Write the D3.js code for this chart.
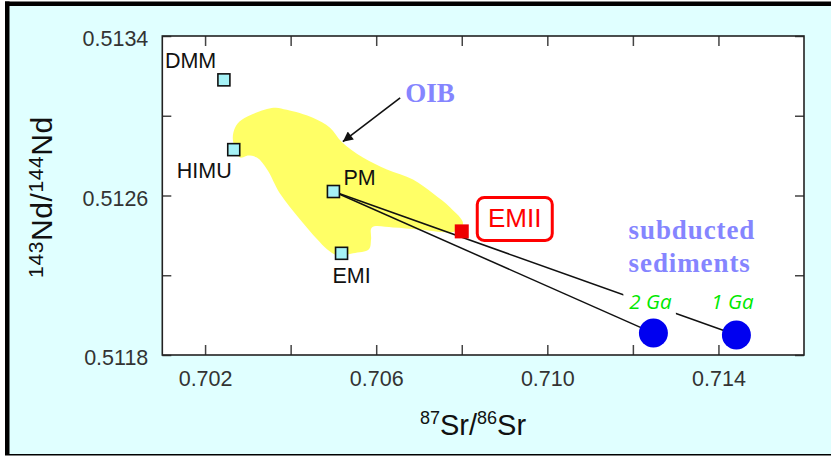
<!DOCTYPE html>
<html>
<head>
<meta charset="utf-8">
<script src="https://cdn.jsdelivr.net/npm/d3@7"></script>
<style>
  body { margin: 0; background: #ffffff; }
  svg { display: block; }
</style>
</head>
<body>
<svg id="chart" width="831" height="456"></svg>
<script>
// ---- data ---------------------------------------------------------------
// Mantle end-members (87Sr/86Sr, 143Nd/144Nd)
const reservoirs = ["DMM", "HIMU", "PM", "EMI"];
const reservoirSr = [0.70244, 0.70267, 0.70500, 0.70519];
const reservoirNd = [0.51318, 0.51283, 0.51262, 0.51231];

// Enriched mantle II
const emiiSr = 0.70800;
const emiiNd = 0.51242;

// Subducted sediments of two ages
const sedimentAges = ["2 Ga", "1 Ga"];
const sedimentSr = [0.71248, 0.71442];
const sedimentNd = [0.51191, 0.51190];

// Outline of the ocean-island basalt field
const oibSr = [0.70265, 0.70270, 0.70286, 0.70360, 0.70391, 0.70452, 0.70492, 0.70519,
               0.70569, 0.70625, 0.70686, 0.70733, 0.70773, 0.70803, 0.70784, 0.70702,
               0.70639, 0.70590, 0.70588, 0.70583, 0.70546, 0.70508, 0.70485, 0.70462,
               0.70422, 0.70375, 0.70345, 0.70321, 0.70298, 0.70282, 0.70265];
const oibNd = [0.51288, 0.51294, 0.51298, 0.51304, 0.51303, 0.51299, 0.51294, 0.51287,
               0.51279, 0.51273, 0.51268, 0.51261, 0.51254, 0.51246, 0.51242, 0.51243,
               0.51244, 0.51244, 0.51238, 0.51233, 0.51231, 0.51230, 0.51233, 0.51238,
               0.51248, 0.51261, 0.51273, 0.51279, 0.51280, 0.51279, 0.51279];

// Axis ticks
const xTicks = [0.702, 0.704, 0.706, 0.708, 0.710, 0.712, 0.714];
const xTickLabels = ["0.702", "", "0.706", "", "0.710", "", "0.714"];
const yTicks = [0.5118, 0.5122, 0.5126, 0.5130, 0.5134];
const yTickLabels = ["0.5118", "", "0.5126", "", "0.5134"];

// Annotation anchors (data space)
const oibArrowFrom = [0.70656, 0.51309];
const oibArrowTo = [0.70522, 0.51287];
const oibLabelAt = [0.70668, 0.51307];
const sedimentLabelAt = [0.71190, 0.51238];

// ---- layout -------------------------------------------------------------
const W = 831, H = 456;
const plot = { left: 162.3, right: 804, top: 36, bottom: 355 };

const svg = d3.select("#chart");

const x = d3.scaleLinear().domain([0.701, 0.716]).range([plot.left, plot.right]);
const y = d3.scaleLinear().domain([0.5118, 0.5134]).range([plot.bottom, plot.top]);

// slide frame
svg.append("rect").attr("x", 0).attr("y", 0).attr("width", W).attr("height", H).attr("fill", "#ffffff");
svg.append("rect").attr("x", 9).attr("y", 5.5).attr("width", W - 9).attr("height", 449)
  .attr("fill", "#e0ffff");
svg.append("rect").attr("x", 5).attr("y", 1.5).attr("width", W - 5).attr("height", 4.5).attr("fill", "#000");
svg.append("rect").attr("x", 5).attr("y", 1.5).attr("width", 4.5).attr("height", 453).attr("fill", "#000");
svg.append("rect").attr("x", 5).attr("y", 454).attr("width", W - 5).attr("height", 1.5).attr("fill", "#000");

// plot background
svg.append("rect")
  .attr("x", plot.left).attr("y", plot.top)
  .attr("width", plot.right - plot.left).attr("height", plot.bottom - plot.top)
  .attr("fill", "#ffffff");

// OIB field
const oibPts = oibSr.map((s, i) => [x(s), y(oibNd[i])]);
svg.append("path")
  .attr("d", d3.line().curve(d3.curveCatmullRomClosed.alpha(0.5))(oibPts.slice(0, -1)))
  .attr("fill", "#ffff66")
  .attr("stroke", "none");

// axes with inward ticks on all four sides
const tickFont = "'Liberation Sans', Arial, Helvetica, sans-serif";
function styleAxis(g) {
  g.select(".domain").remove();
  g.selectAll(".tick line").attr("stroke", "#444").attr("stroke-width", 1.5);
  g.selectAll(".tick text").attr("fill", "#333").attr("font-family", tickFont).attr("font-size", 21.5);
}
svg.append("g").attr("transform", `translate(0,${plot.bottom})`)
  .call(d3.axisBottom(x).tickValues(xTicks).tickSizeInner(-10).tickSizeOuter(0).tickPadding(15.5)
    .tickFormat((d, i) => xTickLabels[i]))
  .call(styleAxis);
svg.append("g").attr("transform", `translate(0,${plot.top})`)
  .call(d3.axisTop(x).tickValues(xTicks).tickSizeInner(-10).tickSizeOuter(0).tickFormat(""))
  .call(styleAxis);
svg.append("g").attr("transform", `translate(${plot.left},0)`)
  .call(d3.axisLeft(y).tickValues(yTicks).tickSizeInner(-9).tickSizeOuter(0).tickPadding(14)
    .tickFormat((d, i) => yTickLabels[i]))
  .call(styleAxis)
  .selectAll(".tick text").attr("dy", "0.45em");
svg.append("g").attr("transform", `translate(${plot.right},0)`)
  .call(d3.axisRight(y).tickValues(yTicks).tickSizeInner(-9).tickSizeOuter(0).tickFormat(""))
  .call(styleAxis);

// plot frame
svg.append("rect")
  .attr("x", plot.left).attr("y", plot.top)
  .attr("width", plot.right - plot.left).attr("height", plot.bottom - plot.top)
  .attr("fill", "none").attr("stroke", "#222").attr("stroke-width", 1.6);

// axis titles
const xTitle = svg.append("text")
  .attr("x", 473).attr("y", 435)
  .attr("text-anchor", "middle")
  .attr("font-family", tickFont).attr("font-size", 29).attr("fill", "#111");
xTitle.append("tspan").attr("font-size", 18).attr("dy", -11).text("87");
xTitle.append("tspan").attr("dy", 11).text("Sr/");
xTitle.append("tspan").attr("font-size", 18).attr("dy", -11).text("86");
xTitle.append("tspan").attr("dy", 11).text("Sr");

const yTitle = svg.append("text")
  .attr("transform", "translate(52,197) rotate(-90)")
  .attr("text-anchor", "middle")
  .attr("font-family", tickFont).attr("font-size", 30).attr("fill", "#111")
  .attr("letter-spacing", 0.6);
yTitle.append("tspan").attr("font-size", 21).attr("dy", -9).text("143");
yTitle.append("tspan").attr("dy", 9).text("Nd/");
yTitle.append("tspan").attr("font-size", 21).attr("dy", -9).text("144");
yTitle.append("tspan").attr("dy", 9).text("Nd");

// mixing lines from PM to the sediment compositions
const pmIdx = reservoirs.indexOf("PM");
sedimentSr.forEach((s, i) => {
  svg.append("line")
    .attr("x1", x(reservoirSr[pmIdx])).attr("y1", y(reservoirNd[pmIdx]))
    .attr("x2", x(s)).attr("y2", y(sedimentNd[i]))
    .attr("stroke", "#111").attr("stroke-width", 1.5);
});

// sediment age labels with a white backing that breaks the line beneath
const ageFont = "'Open Sans', 'Noto Sans', sans-serif";
const ageOffset = [[-3, -24], [-4, -26]];
sedimentAges.forEach((lab, i) => {
  const cx = x(sedimentSr[i]) + ageOffset[i][0];
  const by = y(sedimentNd[i]) + ageOffset[i][1];
  const t = svg.append("text")
    .attr("x", cx).attr("y", by)
    .attr("text-anchor", "middle")
    .attr("font-family", ageFont).attr("font-style", "italic")
    .attr("font-size", 20.5).attr("fill", "#00e800")
    .text(lab);
  const bb = t.node().getBBox();
  svg.insert("rect", () => t.node())
    .attr("x", bb.x - 6).attr("y", by - 20)
    .attr("width", bb.width + 10).attr("height", 26)
    .attr("fill", "#ffffff");
});

// sediment end-members
svg.selectAll("circle.sed")
  .data(sedimentSr)
  .join("circle")
  .attr("class", "sed")
  .attr("cx", d => x(d))
  .attr("cy", (d, i) => y(sedimentNd[i]))
  .attr("r", 14.5)
  .attr("fill", "#0000f0");

// EMII marker and boxed label
const emX = x(emiiSr), emY = y(emiiNd);
svg.append("rect")
  .attr("x", emX - 7).attr("y", emY - 7).attr("width", 14).attr("height", 14)
  .attr("fill", "#ee0000");
svg.append("rect")
  .attr("x", emX + 15.5).attr("y", emY - 34).attr("width", 75).attr("height", 43)
  .attr("rx", 7).attr("ry", 7)
  .attr("fill", "#ffffff").attr("stroke", "#ff0000").attr("stroke-width", 3);
svg.append("text")
  .attr("x", emX + 53).attr("y", emY - 4)
  .attr("text-anchor", "middle")
  .attr("font-family", tickFont).attr("font-size", 26).attr("fill", "#ff0000")
  .text("EMII");

// mantle reservoir squares and labels
const labelPos = {
  DMM: { dx: -59, dy: -11.5, anchor: "start" },
  HIMU: { dx: -2, dy: 28, anchor: "end" },
  PM: { dx: 10, dy: -6.5, anchor: "start" },
  EMI: { dx: 10, dy: 30, anchor: "middle" }
};
reservoirs.forEach((name, i) => {
  const px = x(reservoirSr[i]), py = y(reservoirNd[i]);
  svg.append("rect")
    .attr("x", px - 6).attr("y", py - 6).attr("width", 12).attr("height", 12)
    .attr("fill", "#a6f2f6").attr("stroke", "#111").attr("stroke-width", 1.6);
  const lp = labelPos[name];
  svg.append("text")
    .attr("x", px + lp.dx).attr("y", py + lp.dy)
    .attr("text-anchor", lp.anchor)
    .attr("font-family", tickFont).attr("font-size", 21.5).attr("fill", "#111")
    .text(name);
});

// OIB call-out
const defs = svg.append("defs");
defs.append("marker")
  .attr("id", "arrowhead")
  .attr("viewBox", "0 0 10 10")
  .attr("refX", 10).attr("refY", 5)
  .attr("markerWidth", 12).attr("markerHeight", 10)
  .attr("markerUnits", "userSpaceOnUse")
  .attr("orient", "auto")
  .append("path").attr("d", "M0,0 L10,5 L0,10 Z").attr("fill", "#111");
svg.append("line")
  .attr("x1", x(oibArrowFrom[0])).attr("y1", y(oibArrowFrom[1]))
  .attr("x2", x(oibArrowTo[0])).attr("y2", y(oibArrowTo[1]))
  .attr("stroke", "#111").attr("stroke-width", 1.6)
  .attr("marker-end", "url(#arrowhead)");

const serif = "'Liberation Serif', 'Times New Roman', serif";
svg.append("text")
  .attr("x", x(oibLabelAt[0])).attr("y", y(oibLabelAt[1]))
  .attr("font-family", serif).attr("font-weight", "bold")
  .attr("font-size", 27).attr("fill", "#8585ff")
  .text("OIB");

const sedLabel = svg.append("text")
  .attr("x", x(sedimentLabelAt[0])).attr("y", y(sedimentLabelAt[1]))
  .attr("font-family", serif).attr("font-weight", "bold")
  .attr("font-size", 27).attr("fill", "#8585ff")
  .attr("letter-spacing", 0.9);
sedLabel.append("tspan").attr("x", x(sedimentLabelAt[0])).text("subducted");
sedLabel.append("tspan").attr("x", x(sedimentLabelAt[0])).attr("dy", 32.7).text("sediments");
</script>
</body>
</html>
